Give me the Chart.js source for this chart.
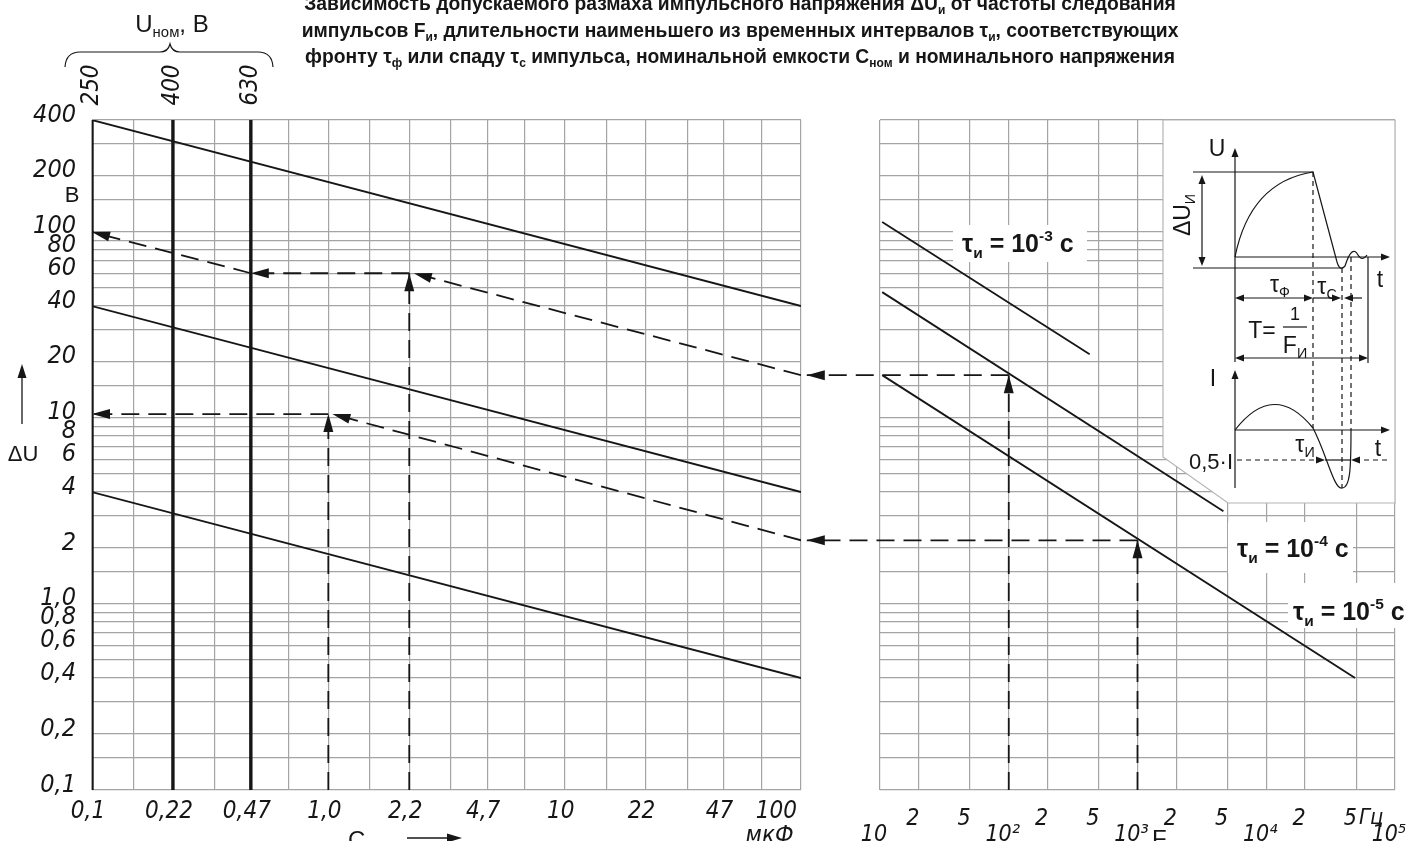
<!DOCTYPE html>
<html>
<head>
<meta charset="utf-8">
<script src="https://cdn.jsdelivr.net/npm/chart.js@4.4.0/dist/chart.umd.min.js"></script>
<style>
html, body { margin: 0; padding: 0; background: #fff; overflow: hidden; }
#wrap { position: relative; width: 1425px; height: 841px; }
.box { position: absolute; top: 0; height: 841px; }
</style>
</head>
<body>
<div id="wrap">
  <div class="box" style="left:0;width:1425px"><canvas id="capChart"></canvas></div>
  <div class="box" style="left:800px;width:625px"><canvas id="freqChart"></canvas></div>
</div>
<script>
// ---- left panel: nominal capacitance, мкФ (log) ----
var capGrid = [0.1, 0.15, 0.22, 0.33, 0.47, 0.68, 1.0, 1.5, 2.2, 3.3, 4.7, 6.8, 10, 15, 22, 33, 47, 68, 100];
var capLabels = ['0,1', '', '0,22', '', '0,47', '', '1,0', '', '2,2', '', '4,7', '', '10', '', '22', '', '47', '', ['100      ', 'мкФ        ']];

// ---- ΔU axis, В (log) ----
var duGrid = [0.1, 0.15, 0.2, 0.3, 0.4, 0.5, 0.6, 0.7, 0.8, 0.9, 1, 1.5, 2, 3, 4, 5, 6, 7, 8, 9,
              10, 15, 20, 30, 40, 50, 60, 70, 80, 90, 100, 150, 200, 300, 400];
var duTickValues = [0.1, 0.2, 0.4, 0.6, 0.8, 1, 2, 4, 6, 8, 10, 20, 40, 60, 80, 100, 200, 400];
var duTickText = ['0,1', '0,2', '0,4', '0,6', '0,8', '1,0', '2', '4', '6', '8', '10', '20', '40', '60', '80', '100', '200', '400'];

// nominal voltage lines (C value where each starts) and their labels
var uNomCap = [0.1, 0.22, 0.47];
var uNomLabels = ['250', '400', '630'];

// ΔU vs C lines  [C, ΔU]
var capLine1 = [[0.1, 400], [100, 40]];
var capLine2 = [[0.1, 40], [100, 4]];
var capLine3 = [[0.1, 4], [100, 0.4]];

// worked examples on the left panel (dashed, arrow at the last point)
var exUpperRise = [[2.2, 0.1], [2.2, 60]];
var exUpperSlope = [[100, 17], [2.3, 60]];
var exUpperLeft = [[2.2, 60], [0.47, 60]];
var exUpperOut = [[0.47, 60], [0.1, 100]];
var exLowerRise = [[1.0, 0.1], [1.0, 10.5]];
var exLowerSlope = [[100, 2.2], [1.04, 10.5]];
var exLowerOut = [[1.0, 10.5], [0.1, 10.5]];

// ---- right panel: pulse frequency, Гц (log) ----
var freqGrid = [10, 20, 50, 100, 200, 500, 1000, 2000, 5000, 10000, 20000, 50000, 100000];
var freqLabels = ['10', '2', '5', '10²', '2', '5', '10³', '2', '5', '10⁴', '2', '5', '10⁵'];

// ΔU vs F lines for pulse durations  [F, ΔU]
var tauLine3 = [[10.4, 113], [425, 22]];     // τи = 10^-3 с
var tauLine4 = [[10.4, 47.5], [4650, 3.15]]; // τи = 10^-4 с
var tauLine5 = [[10.4, 17], [49000, 0.4]];   // τи = 10^-5 с

// worked examples on the right panel
var exFreqRise1 = [[100, 0.1], [100, 17]];
var exFreqOut1 = [[100, 17], [2.7, 17]];
var exFreqRise2 = [[1000, 0.1], [1000, 2.2]];
var exFreqOut2 = [[1000, 2.2], [2.7, 2.2]];

var ink = '#161616';
var gridColor = '#a4a4a4';
var narrow = "'Liberation Sans Narrow', 'DejaVu Sans Condensed', sans-serif";
var sans = "'Liberation Sans', Arial, sans-serif";

function seg(pts, opts) {
  return Object.assign({
    data: pts.map(function (p) { return { x: p[0], y: p[1] }; }),
    showLine: true, pointRadius: 0, borderColor: ink, borderWidth: 1.8, fill: false
  }, opts || {});
}
function dashed(pts, clip) {
  var d = seg(pts, { borderDash: [18, 9], borderWidth: 1.8, arrow: true });
  if (clip === false) d.clip = false;
  return d;
}

function arrowHead(ctx, x, y, ang, len, half) {
  ctx.save();
  ctx.translate(x, y);
  ctx.rotate(ang);
  ctx.beginPath();
  ctx.moveTo(0, 0);
  ctx.lineTo(-len, -half);
  ctx.lineTo(-len, half);
  ctx.closePath();
  ctx.fill();
  ctx.restore();
}

// rich text: parts = [[text, mode]], mode 0 normal, 1 sub, 2 sup
function fontOf(o, mode) {
  var s = mode ? o.size * 0.62 : o.size;
  return (o.style || '') + ' ' + (o.weight || 'normal') + ' ' + s.toFixed(1) + 'px ' + o.family;
}
function richWidth(ctx, parts, o) {
  var w = 0;
  parts.forEach(function (p) { ctx.font = fontOf(o, p[1]); w += ctx.measureText(p[0]).width; });
  return w;
}
function drawRich(ctx, parts, x, y, o) {
  var w = richWidth(ctx, parts, o);
  var cx = o.align === 'center' ? x - w / 2 : (o.align === 'right' ? x - w : x);
  ctx.textAlign = 'left';
  ctx.textBaseline = 'alphabetic';
  parts.forEach(function (p) {
    ctx.font = fontOf(o, p[1]);
    var dy = p[1] === 1 ? o.size * 0.22 : (p[1] === 2 ? -o.size * 0.45 : 0);
    ctx.fillText(p[0], cx, y + dy);
    cx += ctx.measureText(p[0]).width;
  });
}

var titleLines = [
  [['Зависимость допускаемого размаха импульсного напряжения ΔU', 0], ['и', 1], [' от частоты следования', 0]],
  [['импульсов F', 0], ['и', 1], [', длительности наименьшего из временных интервалов τ', 0], ['и', 1], [', соответствующих', 0]],
  [['фронту τ', 0], ['ф', 1], [' или спаду τ', 0], ['с', 1], [' импульса, номинальной емкости С', 0], ['ном', 1], [' и номинального напряжения', 0]]
];

var arrowPlugin = {
  id: 'arrowHeads',
  afterDatasetsDraw: function (chart) {
    var ctx = chart.ctx;
    ctx.save();
    ctx.fillStyle = ink;
    chart.data.datasets.forEach(function (ds, i) {
      if (!ds.arrow) return;
      var pts = chart.getDatasetMeta(i).data;
      var a = pts[pts.length - 2], b = pts[pts.length - 1];
      arrowHead(ctx, b.x, b.y, Math.atan2(b.y - a.y, b.x - a.x), 18, 5);
    });
    ctx.restore();
  }
};

var capDecor = {
  id: 'capDecor',
  afterDraw: function (chart) {
    var ctx = chart.ctx, xs = chart.scales.x;
    ctx.save();
    ctx.fillStyle = ink;
    ctx.strokeStyle = ink;

    // title, fitted to the width of its last line
    var probe = { size: 20, weight: 'bold', family: sans };
    var size = 20 * 872 / richWidth(ctx, titleLines[2], probe);
    titleLines.forEach(function (ln, k) {
      drawRich(ctx, ln, 740, 10 + k * 26.5, { size: size, weight: 'bold', family: sans, align: 'center' });
    });

    // nominal voltages above the thick lines
    ctx.font = 'italic 24px ' + narrow;
    ctx.textAlign = 'center';
    ctx.textBaseline = 'middle';
    uNomCap.forEach(function (c, k) {
      ctx.save();
      ctx.translate(xs.getPixelForValue(c), 85);
      ctx.rotate(-Math.PI / 2);
      ctx.fillText(uNomLabels[k], 0, 0);
      ctx.restore();
    });

    // brace
    ctx.lineWidth = 1.2;
    ctx.beginPath();
    ctx.moveTo(65, 67);
    ctx.quadraticCurveTo(66, 52, 80, 52);
    ctx.lineTo(160, 52);
    ctx.quadraticCurveTo(168, 52, 170, 44);
    ctx.quadraticCurveTo(172, 52, 180, 52);
    ctx.lineTo(258, 52);
    ctx.quadraticCurveTo(272, 52, 273, 67);
    ctx.stroke();
    drawRich(ctx, [['U', 0], ['ном', 1], [', В', 0]], 172, 32, { size: 24, family: sans, align: 'center' });

    // y axis captions
    ctx.font = '22px ' + sans;
    ctx.textAlign = 'center';
    ctx.textBaseline = 'middle';
    ctx.fillText('В', 72, 196);
    ctx.fillText('ΔU', 23, 455);
    ctx.lineWidth = 1.3;
    ctx.beginPath(); ctx.moveTo(22, 424); ctx.lineTo(22, 376); ctx.stroke();
    arrowHead(ctx, 22, 364, -Math.PI / 2, 14, 4.5);

    // x axis caption
    drawRich(ctx, [['С', 0], ['ном', 1]], 348, 848, { size: 24, family: sans, align: 'left' });
    ctx.beginPath(); ctx.moveTo(407, 838); ctx.lineTo(450, 838); ctx.stroke();
    arrowHead(ctx, 462, 838, 0, 15, 4.5);
    ctx.restore();
  }
};

function line(ctx, x1, y1, x2, y2, dash) {
  ctx.setLineDash(dash || []);
  ctx.beginPath(); ctx.moveTo(x1, y1); ctx.lineTo(x2, y2); ctx.stroke();
  ctx.setLineDash([]);
}

function drawInset(ctx) {
  ctx.save();
  ctx.translate(-800, 0);
  ctx.beginPath();
  ctx.moveTo(1163, 120); ctx.lineTo(1395, 120); ctx.lineTo(1395, 503);
  ctx.lineTo(1228, 503); ctx.lineTo(1163, 457); ctx.closePath();
  ctx.fillStyle = '#fff'; ctx.fill();
  ctx.strokeStyle = '#b4b4b4'; ctx.lineWidth = 1.2; ctx.stroke();

  ctx.strokeStyle = ink; ctx.fillStyle = ink; ctx.lineWidth = 1.2;
  // voltage diagram
  line(ctx, 1235, 362, 1235, 156); arrowHead(ctx, 1235, 148, -Math.PI / 2, 9, 3.5);
  line(ctx, 1235, 257, 1382, 257); arrowHead(ctx, 1390, 257, 0, 9, 3.5);
  line(ctx, 1193, 172, 1313, 172);
  line(ctx, 1193, 268, 1343, 268);
  line(ctx, 1202, 182, 1202, 258);
  arrowHead(ctx, 1202, 175, -Math.PI / 2, 9, 3.5);
  arrowHead(ctx, 1202, 266, Math.PI / 2, 9, 3.5);
  ctx.beginPath();
  ctx.moveTo(1235, 257);
  ctx.quadraticCurveTo(1250, 182, 1313, 172);
  ctx.lineTo(1337, 262);
  ctx.quadraticCurveTo(1340, 272, 1345, 266);
  ctx.quadraticCurveTo(1352, 244, 1358, 255);
  ctx.quadraticCurveTo(1362, 262, 1367, 255);
  ctx.stroke();
  line(ctx, 1313, 172, 1313, 428, [5, 4]);
  line(ctx, 1342, 268, 1342, 488, [5, 4]);
  line(ctx, 1351, 257, 1351, 430, [5, 4]);
  line(ctx, 1368, 257, 1368, 363);
  // tau_f, tau_c
  line(ctx, 1243, 298, 1305, 298);
  arrowHead(ctx, 1235, 298, Math.PI, 9, 3.5); arrowHead(ctx, 1313, 298, 0, 9, 3.5);
  line(ctx, 1313, 298, 1333, 298); arrowHead(ctx, 1341, 298, 0, 9, 3.5);
  line(ctx, 1352, 298, 1362, 298); arrowHead(ctx, 1344, 298, Math.PI, 9, 3.5);
  // T
  line(ctx, 1243, 358, 1360, 358);
  arrowHead(ctx, 1235, 358, Math.PI, 9, 3.5); arrowHead(ctx, 1368, 358, 0, 9, 3.5);
  line(ctx, 1283, 327, 1307, 327);
  // current diagram
  line(ctx, 1235, 488, 1235, 378); arrowHead(ctx, 1235, 370, -Math.PI / 2, 9, 3.5);
  line(ctx, 1235, 430, 1382, 430); arrowHead(ctx, 1390, 430, 0, 9, 3.5);
  ctx.beginPath();
  ctx.moveTo(1235, 430);
  ctx.quadraticCurveTo(1274, 380, 1313, 428);
  ctx.bezierCurveTo(1327, 455, 1334, 490, 1342, 488);
  ctx.bezierCurveTo(1350, 488, 1351, 470, 1351, 430);
  ctx.stroke();
  line(ctx, 1237, 460, 1317, 460, [5, 4]); arrowHead(ctx, 1325, 460, 0, 9, 3.5);
  line(ctx, 1325, 460, 1350, 460);
  line(ctx, 1387, 460, 1360, 460, [5, 4]); arrowHead(ctx, 1351, 460, Math.PI, 9, 3.5);

  // inset labels
  var c22 = { size: 23, family: sans, align: 'center' };
  drawRich(ctx, [['U', 0]], 1217, 156, c22);
  drawRich(ctx, [['t', 0]], 1380, 287, c22);
  ctx.save();
  ctx.translate(1190, 215);
  ctx.rotate(-Math.PI / 2);
  drawRich(ctx, [['ΔU', 0], ['И', 1]], 0, 0, c22);
  ctx.restore();
  drawRich(ctx, [['τ', 0], ['Ф', 1]], 1280, 292, c22);
  drawRich(ctx, [['τ', 0], ['С', 1]], 1327, 294, c22);
  drawRich(ctx, [['T=', 0]], 1262, 338, c22);
  drawRich(ctx, [['1', 0]], 1295, 320, { size: 18, family: sans, align: 'center' });
  drawRich(ctx, [['F', 0], ['И', 1]], 1295, 353, c22);
  drawRich(ctx, [['I', 0]], 1213, 386, c22);
  drawRich(ctx, [['t', 0]], 1378, 456, c22);
  drawRich(ctx, [['0,5·I', 0]], 1233, 469, { size: 22, family: sans, align: 'right' });
  drawRich(ctx, [['τ', 0], ['И', 1]], 1305, 452, c22);
  ctx.restore();
}

function tauLabel(ctx, box, exp, tx, ty) {
  ctx.fillStyle = '#fff';
  ctx.fillRect(box[0], box[1], box[2] - box[0], box[3] - box[1]);
  ctx.fillStyle = ink;
  drawRich(ctx, [['τ', 0], ['и', 1], [' = 10', 0], [exp, 2], [' с', 0]], tx, ty,
    { size: 25, weight: 'bold', family: sans, align: 'left' });
}

var freqDecor = {
  id: 'freqDecor',
  beforeDatasetsDraw: function (chart) {
    drawInset(chart.ctx);
  },
  afterDatasetsDraw: function (chart) {
    var ctx = chart.ctx;
    ctx.save();
    ctx.translate(-800, 0);
    tauLabel(ctx, [953, 225, 1087, 262], '-3', 962, 252);
    tauLabel(ctx, [1228, 522, 1353, 573], '-4', 1237, 557);
    tauLabel(ctx, [1288, 583, 1410, 628], '-5', 1293, 620);
    ctx.restore();
  },
  afterDraw: function (chart) {
    var ctx = chart.ctx;
    ctx.save();
    ctx.translate(-800, 0);
    ctx.fillStyle = ink; ctx.strokeStyle = ink; ctx.lineWidth = 1.3;
    ctx.font = 'italic 22px ' + narrow;
    ctx.textAlign = 'left'; ctx.textBaseline = 'middle';
    ctx.fillText('Гц', 1359, 818);
    drawRich(ctx, [['F', 0], ['и', 1]], 1152, 847, { size: 24, family: sans, align: 'left' });
    ctx.beginPath(); ctx.moveTo(1183, 850); ctx.lineTo(1228, 850); ctx.stroke();
    arrowHead(ctx, 1241, 850, 0, 15, 4.5);
    ctx.restore();
  }
};

function logAxis(grid, min, max) {
  return {
    type: 'logarithmic', min: min, max: max,
    afterBuildTicks: function (s) { s.ticks = grid.map(function (v) { return { value: v }; }); },
    grid: { color: gridColor, lineWidth: 1.2, drawTicks: false },
    border: { display: false }
  };
}

// left chart
var capX = logAxis(capGrid, 0.1, 100);
capX.afterFit = function (s) { s.height = 51; };
capX.ticks = {
  autoSkip: false, maxRotation: 0, minRotation: 0, padding: 9, labelOffset: -4,
  color: ink, font: { family: narrow, size: 24, style: 'italic', lineHeight: 1.05 },
  callback: function (v, i) { return capLabels[i]; }
};
var capY = logAxis(duGrid, 0.1, 400);
capY.afterFit = function (s) { s.width = 92; };
capY.ticks = {
  autoSkip: false, padding: 16, labelOffset: -5, color: ink,
  font: { family: narrow, size: 25, style: 'italic' },
  callback: function (v) { var k = duTickValues.indexOf(v); return k < 0 ? '' : duTickText[k]; }
};

var capSets = uNomCap.map(function (c) { return seg([[c, 0.1], [c, 400]], { borderWidth: 3.4 }); });
capSets.push(seg(capLine1), seg(capLine2), seg(capLine3));
capSets.push(dashed(exUpperRise), dashed(exUpperLeft), dashed(exUpperOut), dashed(exUpperSlope));
capSets.push(dashed(exLowerRise), dashed(exLowerOut), dashed(exLowerSlope));

new Chart(document.getElementById('capChart'), {
  type: 'scatter',
  data: { datasets: capSets },
  options: {
    responsive: true, maintainAspectRatio: false, animation: false, devicePixelRatio: 1,
    layout: { padding: { top: 120, right: 624, bottom: 0, left: 0 } },
    plugins: { legend: { display: false }, tooltip: { enabled: false } },
    scales: { x: capX, y: capY }
  },
  plugins: [arrowPlugin, capDecor]
});

// right chart: "2"/"5" sit on the second text line, powers of ten on the third
var freqX = logAxis(freqGrid, 10, 100000);
freqX.afterFit = function (s) { s.height = 51; };
freqX.ticks = {
  autoSkip: false, maxRotation: 0, minRotation: 0, padding: 6, labelOffset: -6,
  color: ink, font: { family: narrow, size: 23, style: 'italic', lineHeight: 0.68 },
  callback: function (v, i) {
    var t = freqLabels[i];
    return (t === '2' || t === '5') ? ['', t] : ['', '', t];
  }
};
var freqY = logAxis(duGrid, 0.1, 400);
freqY.afterFit = function (s) { s.width = 80; };
freqY.ticks = { display: false };

var freqSets = [seg(tauLine3), seg(tauLine4), seg(tauLine5),
  dashed(exFreqRise1), dashed(exFreqOut1, false), dashed(exFreqRise2), dashed(exFreqOut2, false)];

new Chart(document.getElementById('freqChart'), {
  type: 'scatter',
  data: { datasets: freqSets },
  options: {
    responsive: true, maintainAspectRatio: false, animation: false, devicePixelRatio: 1,
    layout: { padding: { top: 120, right: 30, bottom: 0, left: 0 } },
    plugins: { legend: { display: false }, tooltip: { enabled: false } },
    scales: { x: freqX, y: freqY }
  },
  plugins: [arrowPlugin, freqDecor]
});
</script>
</body>
</html>
